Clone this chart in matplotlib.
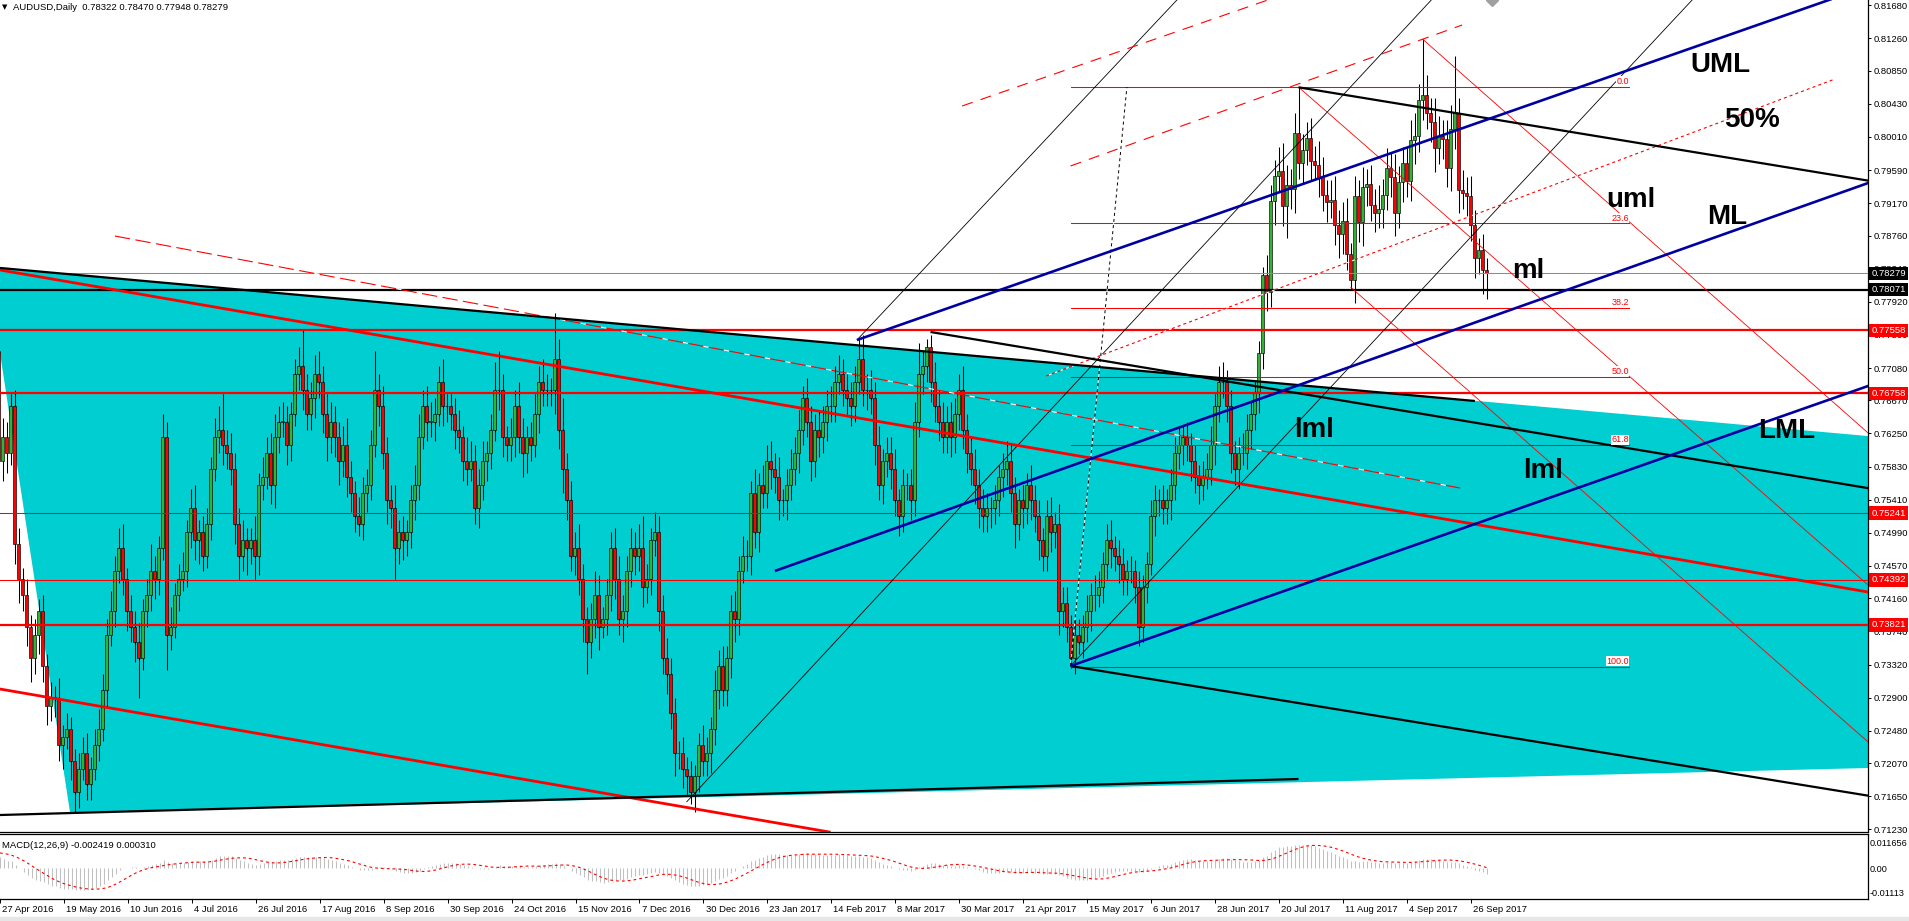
import numpy as np
import pandas as pd
import matplotlib
matplotlib.use("Agg")
import matplotlib.pyplot as plt
from matplotlib.patches import Polygon
import matplotlib.transforms as mtransforms

plt.rcParams['font.family'] = ['Liberation Sans', 'DejaVu Sans']
plt.rcParams['lines.scale_dashes'] = False

W, H = 1909, 921

# ---------------- price data (AUDUSD daily, in pips) ----------------
# closes before the first visible bar, only used to warm up the MACD
warmup_close = [7160, 7240, 7290, 7370, 7430, 7410, 7420, 7400, 7490, 7480, 7450, 7580, 7640, 7620,
                7590, 7620, 7550, 7510, 7520, 7560, 7650, 7660, 7660, 7640, 7580, 7560, 7580, 7530,
                7580, 7610, 7680, 7640, 7650, 7710, 7720, 7800, 7760, 7720, 7720, 7690, 7730]

close = [
    7590, 7620, 7600,                       # 27-29 Apr 2016
    7660, 7485, 7440, 7420, 7380,
    7340, 7370, 7400, 7330, 7280,
    7290, 7290, 7230, 7240, 7250,
    7210, 7170, 7200, 7220, 7180,
    7200, 7230, 7250, 7300, 7370,
    7400, 7450, 7480, 7440, 7400,
    7380, 7360, 7340, 7400, 7420,
    7450, 7440, 7480, 7620, 7370,
    7380, 7420, 7440, 7450, 7500,
    7530, 7490, 7500, 7470, 7510,           # Jul 2016
    7580, 7620, 7630, 7610, 7600,
    7580, 7510, 7470, 7490, 7480,
    7490, 7470, 7560, 7570, 7600,
    7560, 7620, 7640, 7640, 7610,           # Aug 2016
    7650, 7700, 7710, 7680, 7650,
    7670, 7700, 7690, 7650, 7620,
    7640, 7620, 7590, 7610, 7570,
    7550, 7520, 7510, 7550, 7560,
    7610, 7680, 7660, 7600, 7540,           # Sep 2016
    7530, 7480, 7500, 7490, 7500,
    7540, 7560, 7620, 7660, 7640,
    7640, 7650, 7690, 7660, 7660,
    7650, 7630, 7620, 7590, 7580,           # Oct 2016
    7590, 7530, 7560, 7590, 7600,
    7630, 7680, 7680, 7620, 7610,
    7620, 7660, 7620, 7600, 7620,
    7610, 7650, 7690, 7680, 7680,
    7680, 7720, 7630, 7580, 7540,           # Nov 2016
    7470, 7480, 7440, 7390, 7360,
    7390, 7420, 7380, 7390, 7420,
    7480, 7440, 7390, 7400, 7450,
    7480, 7470, 7480, 7430, 7440,           # Dec 2016
    7490, 7500, 7400, 7340, 7320,
    7270, 7220, 7220, 7200, 7190,
    7170, 7190, 7230, 7210,
    7220, 7250, 7300, 7330, 7300,           # Jan 2017
    7340, 7400, 7390, 7450, 7470,
    7470, 7550, 7500, 7560, 7550,
    7590, 7580, 7570, 7540, 7540,
    7560, 7580, 7600, 7630, 7670,
    7640, 7590, 7630, 7620, 7640,           # Feb 2017
    7660, 7660, 7690, 7700, 7680,
    7670, 7660, 7690, 7720, 7680,
    7680, 7670, 7610, 7560, 7590,
    7600, 7580, 7540, 7520, 7560,           # Mar 2017
    7560, 7540, 7640, 7700, 7710,
    7735, 7690, 7660, 7640, 7620,
    7640, 7620, 7650, 7680, 7630,
    7600, 7580, 7560, 7530, 7520,           # Apr 2017
    7530, 7530, 7540, 7570, 7580,
    7590, 7550, 7510, 7540, 7530,
    7560, 7540, 7520, 7490, 7470,
    7520, 7500, 7510, 7400, 7410,           # May 2017
    7380, 7340, 7370, 7360, 7380,
    7400, 7420, 7420, 7430, 7460,
    7490, 7480, 7470, 7460, 7440,
    7450, 7450, 7430, 7380, 7430,
    7460, 7520, 7540, 7540, 7530,           # Jun 2017
    7540, 7560, 7600, 7610, 7620,
    7610, 7590, 7570, 7560, 7570,
    7580, 7610, 7660, 7690, 7690,
    7660, 7600, 7580, 7600, 7600,           # Jul 2017
    7630, 7650, 7676, 7727, 7826,
    7805, 7920, 7952, 7958, 7913,
    7940, 7935, 8006, 7968, 7985,
    8000, 7970, 7966, 7950, 7927,
    7918, 7921, 7889, 7878, 7894,           # Aug 2017
    7852, 7820, 7926, 7893, 7938,
    7941, 7915, 7905, 7910, 7928,
    7962, 7950, 7905, 7944, 7968,
    7945, 7997, 8002, 8048, 8054,           # Sep 2017
    8031, 8020, 7987, 8002, 7998,
    7962, 8011, 8031, 7934, 7930,
    7926, 7889, 7847, 7858, 7832,
    7828,                                   # 2 Oct 2017
]

wick_up = [
    10, 25, 20,
    15, 20, 20, 15, 20, 15, 20, 15, 20, 15, 20, 15, 25, 15, 20, 15, 15, 20, 20, 25,
    15, 20, 25, 20, 20, 25, 20, 25, 30, 15, 20, 20, 25, 15, 20, 35, 20, 15, 30, 20,
    25, 15, 20, 25, 15, 25, 30, 15, 20, 20, 15, 25, 30, 45, 20, 25, 20, 20, 25, 15,
    15, 30, 15, 25, 20, 25, 30, 20, 25, 20, 15, 20, 25, 48, 20, 20, 25, 30, 20, 25,
    25, 20, 20, 25, 35, 20, 15, 25, 20, 20, 20, 50, 20, 25, 20, 20, 30, 15, 20, 15,
    20, 25, 30, 20, 25, 25, 20, 20, 30, 15, 15, 20, 25, 15, 30, 25, 20, 20, 25, 15,
    20, 35, 50, 20, 15, 25, 20, 30, 25, 15, 20, 25, 20, 30, 20, 15, 58, 25, 40, 20,
    25, 20, 30, 20, 15, 20, 30, 25, 15, 20, 20, 25, 30, 20, 20, 25, 20, 30, 40, 20,
    15, 25, 20, 20, 25, 20, 20, 15, 20, 15, 20, 15, 15, 25,
    20, 15, 25, 20, 25, 15, 20, 25, 20, 25, 20, 15, 30, 15, 25, 20, 25, 20, 25, 15,
    20, 25, 20, 25, 15, 25, 20, 20, 25, 20, 20, 25, 20, 25, 20, 20, 20, 20, 25, 30,
    20, 25, 20, 25, 15, 20, 20, 25, 15, 20, 15, 20, 25, 40, 20, 10, 15, 25, 20, 25,
    20, 25, 20, 20, 30, 20, 20, 25, 20, 25, 20, 15, 20, 15, 20, 25, 20, 20, 15, 20,
    15, 25, 20, 20, 15, 20, 25, 15, 25, 20, 20, 15, 20, 20, 15, 20, 15, 25, 20, 15,
    20, 25, 15, 20, 20, 15, 20, 15, 20, 15, 15, 20, 20, 15, 20, 15, 20, 20, 25, 15,
    20, 15, 20, 15, 20, 20, 25, 15, 20, 25, 15, 20, 15, 20, 25, 20, 15, 15, 15, 10,
    25, 20, 20, 30, 35, 25, 20, 25, 59, 20, 20, 25, 20, 30, 25, 20, 25, 30, 20, 25,
    30, 15, 25, 20, 25, 20, 25, 20, 30, 20, 25, 20, 30, 20, 20, 20, 25, 30, 20, 71,
    25, 20, 30, 25, 20, 25, 30, 73, 20, 25, 20, 25, 20, 15, 20,
    15,
]

wick_dn = [
    20, 25, 25,
    15, 25, 30, 20, 25, 30, 20, 25, 20, 25, 20, 25, 20, 30, 15, 25, 25, 20, 15, 20,
    20, 15, 20, 15, 20, 15, 20, 15, 20, 25, 20, 25, 50, 15, 20, 20, 25, 20, 15, 45,
    20, 15, 20, 15, 20, 20, 25, 30, 20, 15, 20, 15, 20, 25, 20, 20, 25, 30, 20, 35,
    20, 30, 25, 20, 15, 25, 30, 20, 20, 25, 20, 15, 20, 25, 20, 20, 25, 20, 25, 30,
    20, 25, 30, 20, 25, 25, 20, 15, 20, 25, 20, 15, 25, 20, 30, 25, 40, 20, 25, 20,
    20, 25, 20, 15, 25, 20, 25, 15, 25, 20, 20, 25, 20, 25, 20, 15, 20, 25, 20, 25,
    20, 15, 25, 25, 20, 20, 25, 20, 30, 25, 20, 15, 25, 20, 20, 20, 30, 25, 30, 25,
    20, 25, 20, 30, 40, 20, 25, 30, 15, 20, 20, 25, 20, 30, 20, 20, 25, 20, 25, 20,
    20, 20, 25, 20, 25, 20, 30, 20, 25, 25, 15, 25, 20, 20,
    20, 25, 20, 25, 20, 20, 25, 30, 20, 15, 20, 25, 20, 25, 20, 20, 25, 20, 25, 20,
    25, 20, 20, 25, 20, 20, 25, 20, 25, 20, 25, 20, 20, 15, 20, 20, 25, 20, 15, 20,
    25, 20, 25, 20, 25, 20, 25, 20, 25, 20, 20, 25, 20, 20, 25, 20, 25, 20, 25, 20,
    20, 25, 20, 20, 25, 25, 20, 25, 25, 20, 20, 25, 20, 20, 25, 20, 25, 30, 20, 25,
    20, 25, 20, 25, 20, 20, 25, 20, 30, 20, 20, 12, 20, 15, 20, 20, 25, 20, 15, 20,
    20, 25, 20, 25, 20, 20, 15, 20, 25, 20, 20, 15, 25, 20, 20, 20, 25, 20, 20, 25,
    20, 25, 20, 25, 20, 15, 20, 25, 20, 20, 20, 25, 20, 25, 15, 20, 25, 20, 25, 20,
    25, 20, 30, 20, 25, 40, 25, 30, 20, 25, 20, 25, 20, 25, 20, 25, 20, 25, 30, 25,
    20, 12, 30, 25, 30, 25, 20, 25, 20, 25, 20, 25, 30, 20, 25, 20, 25, 30, 20, 25,
    20, 25, 30, 20, 25, 25, 30, 25, 30, 20, 25, 20, 25, 20, 30,
    33,
]

# ---------------- axis labels ----------------
price_ticks = [0.81680, 0.81260, 0.80850, 0.80430, 0.80010, 0.79590, 0.79170, 0.78760, 0.78340,
               0.77920, 0.77500, 0.77080, 0.76670, 0.76250, 0.75830, 0.75410, 0.74990, 0.74570,
               0.74160, 0.73740, 0.73320, 0.72900, 0.72480, 0.72070, 0.71650, 0.71230]
date_labels = ["27 Apr 2016", "19 May 2016", "10 Jun 2016", "4 Jul 2016", "26 Jul 2016",
               "17 Aug 2016", "8 Sep 2016", "30 Sep 2016", "24 Oct 2016", "15 Nov 2016",
               "7 Dec 2016", "30 Dec 2016", "23 Jan 2017", "14 Feb 2017", "8 Mar 2017",
               "30 Mar 2017", "21 Apr 2017", "15 May 2017", "6 Jun 2017", "28 Jun 2017",
               "20 Jul 2017", "11 Aug 2017", "4 Sep 2017", "26 Sep 2017"]
macd_ticks = [0.011656, 0.0, -0.01113]
macd_tick_labels = ["0.011656", "0.00", "-0.01113"]

# ---------------- drawn objects: (bar_1, price_1, bar_2, price_2) ----------------
levels_thick_red = [0.77558, 0.76758, 0.73821]
levels_thin_red = [0.75241, 0.74392]
level_black = 0.78071
bid_price = 0.78279

black_segments = [(-4, 0.78369, 369.1, 0.76662), (-2, 0.71408, 325, 0.71868)]
black_rays = [(233, 0.77537, 467, 0.75560), (325, 0.80640, 467, 0.79460), (268, 0.73301, 467, 0.71660)]
red_thick_lines = [(0.375, 0.78323, 467.4, 0.74239), (0.375, 0.73009, 205.6, 0.71214)]
blue_rays = [(214.6, 0.77435, 350.4, 0.79845), (194.1, 0.74506, 467.4, 0.79426), (268, 0.73301, 467.4, 0.76852)]
thin_black_rays = [(172, 0.71576, 225.4, 0.74493), (214.6, 0.77435, 294.6, 0.81747), (268, 0.73301, 423.4, 0.81747)]
thin_red_rays = [(325, 0.80643, 467.4, 0.74328), (356, 0.81252, 467.4, 0.76256), (338, 0.78107, 467.4, 0.72337)]
dash_long = (29.1, 0.78754, 365.4, 0.75558)
dash_upper = [(240.9, 0.80403, 330, 0.81970), (268, 0.79642, 365.9, 0.81430)]
dash_half = (261.9, 0.76979, 459.1, 0.80745)
dotted_black = (268, 0.73301, 282.1, 0.80643)
triangle = [(-2.9, 0.78361), (17.9, 0.71437), (1189.7, 0.72924)]

fib_high, fib_low = 0.80650, 0.73290
fib_levels = [0.0, 23.6, 38.2, 50.0, 61.8, 100.0]
fib_start, fib_end = 268, 407.6

fork_labels = [("UML", 430.4, 0.80834), ("50%", 438.4, 0.80137), ("uml", 408.1, 0.79122),
               ("ML", 432.1, 0.78906), ("ml", 382.4, 0.78222), ("lml", 328.9, 0.76205),
               ("lml", 386.1, 0.75685), ("LML", 447.1, 0.76192)]

# ---------------- prepare series ----------------
dates = pd.bdate_range("2016-03-01", "2017-10-02", freq="C", holidays=["2016-12-26"])
n_warm = len(warmup_close)
assert len(dates) == n_warm + len(close) == n_warm + len(wick_up) == n_warm + len(wick_dn)

all_close = np.array(warmup_close + close, dtype=float) / 1e4
c = np.array(close, dtype=float) / 1e4
o = all_close[n_warm - 1:-1]
hi = np.maximum(o, c) + np.array(wick_up) / 1e4
lo = np.minimum(o, c) - np.array(wick_dn) / 1e4
bars = np.arange(len(c))

ema12 = pd.Series(all_close).ewm(span=12, adjust=False).mean()
ema26 = pd.Series(all_close).ewm(span=26, adjust=False).mean()
macd_main = (ema12 - ema26).to_numpy()
macd_signal = pd.Series(macd_main).rolling(9).mean().to_numpy()
macd_main, macd_signal = macd_main[n_warm:], macd_signal[n_warm:]

tick_pos = [dates.get_loc(pd.to_datetime(s, format="%d %b %Y")) - n_warm for s in date_labels]

XMIN, XMAX = 0.375, 467.375
YMIN, YMAX = 0.711958, 0.817472

# ---------------- figure ----------------
fig = plt.figure(figsize=(W / 100, H / 100), dpi=100, facecolor="white")
ax = fig.add_axes([0, (H - 832) / H, 1868 / W, 832 / H])
axm = fig.add_axes([0, (H - 899) / H, 1868 / W, 65 / H])

ax.set_xlim(XMIN, XMAX)
ax.set_ylim(YMIN, YMAX)
ax.set_facecolor("white")

# cyan triangle object
ax.add_patch(Polygon(triangle, closed=True, facecolor="#00CED1", edgecolor="none", zorder=0.5))

# candles
up = c >= o
body_col = np.where(up, "#32B432", "#FF0000")
ax.vlines(bars, lo, hi, color="black", lw=0.75, zorder=1.9)
ax.bar(bars, np.maximum(np.abs(c - o), 0.00002), bottom=np.minimum(o, c), width=0.62,
       color=body_col, edgecolor="black", linewidth=0.45, zorder=2)


def seg(a, ray=False, **kw):
    b1, p1, b2, p2 = a
    if ray:
        xe = XMAX + 5
        p2 = p1 + (p2 - p1) * (xe - b1) / (b2 - b1)
        b2 = xe
    ax.plot([b1, b2], [p1, p2], solid_capstyle="butt", dash_capstyle="butt", **kw)


# horizontal levels
for p in levels_thick_red:
    ax.axhline(p, color="#FF0000", lw=1.6, zorder=3)
for p in levels_thin_red:
    ax.axhline(p, color="#FF0000", lw=0.75, zorder=3)
ax.axhline(level_black, color="black", lw=1.6, zorder=3)
ax.axhline(bid_price, color="#8C8C8C", lw=0.75, zorder=3)

# fibonacci
for lv in fib_levels:
    p = fib_high - lv / 100 * (fib_high - fib_low)
    ax.plot([fib_start, fib_end], [p, p], color="#FF0000", lw=0.75, zorder=3)
    ax.text(fib_end, p + 0.00012, f"{lv:.1f}", color="#FF0000", fontsize=6.5, ha="right", va="bottom",
            zorder=4, bbox=dict(boxstyle="square,pad=0.05", fc="white", ec="none"))

# trend lines
for a in red_thick_lines:
    ax.axline(a[:2], a[2:], color="#FF0000", lw=2.0, zorder=3.2)
for a in black_segments:
    seg(a, color="black", lw=1.6, zorder=3.3)
for a in black_rays:
    seg(a, True, color="black", lw=1.6, zorder=3.3)
for a in thin_black_rays:
    seg(a, True, color="black", lw=0.6, zorder=3.1)
for a in thin_red_rays:
    seg(a, True, color="#FF0000", lw=0.6, zorder=3.1)
for a in blue_rays:
    seg(a, True, color="#0000A0", lw=1.9, zorder=3.4)
seg(dash_long, color="#FF0000", lw=0.8, linestyle=(0, (11, 4)), gapcolor="white", zorder=3.1)
for a in dash_upper:
    seg(a, color="#FF0000", lw=0.8, linestyle=(0, (8, 6)), zorder=3.1)
seg(dash_half, color="#FF0000", lw=0.8, linestyle=(0, (2.2, 2.2)), gapcolor="white", zorder=3.1)
seg(dotted_black, color="black", lw=0.7, linestyle=(0, (2.2, 2.2)), gapcolor="white", zorder=3.1)

for txt, bx, py in fork_labels:
    ax.text(bx, py, txt, fontsize=20, fontweight="bold", color="black", ha="center", va="baseline", zorder=6)

# chart shift marker
ax.plot(373.4, YMAX, marker="D", ms=6, color="#A0A0A0", mec="#A0A0A0", zorder=6)

# axes styling (main)
for s in ("left", "top"):
    ax.spines[s].set_visible(False)
ax.spines["right"].set_linewidth(0.9)
ax.spines["bottom"].set_linewidth(0.9)
ax.set_xticks([])
ax.yaxis.tick_right()
ax.set_yticks(price_ticks)
ax.set_yticklabels([f"{v:.5f}" for v in price_ticks])
ax.tick_params(axis="y", length=2.5, width=0.7, pad=1.8, labelsize=6.8, colors="black")

# highlighted price labels on the axis
ytr = ax.get_yaxis_transform()
tags = [(bid_price, "black"), (level_black, "black")] + [(p, "#FF0000") for p in levels_thick_red + levels_thin_red]
for p, col in tags:
    ax.text(1 + 3.5 / 1868, p, f"{p:.5f}", transform=ytr, color="white", fontsize=6.8, ha="left", va="center",
            clip_on=False, zorder=10, bbox=dict(boxstyle="square,pad=0.22", fc=col, ec="none"))

# title
fig.text(2 / W, 1 - 7.5 / H, "\u25bc", fontsize=5, va="center", ha="left", family=["DejaVu Sans"])
fig.text(13 / W, 1 - 7.5 / H, "AUDUSD,Daily  0.78322 0.78470 0.77948 0.78279", fontsize=6.8,
         va="center", ha="left", color="black")

# ---------------- MACD pane ----------------
axm.set_xlim(XMIN, XMAX)
axm.set_ylim(-(899 - 868) / 2230, (868 - 834) / 2230)
axm.vlines(bars, 0, macd_main, color="#C0C0C0", lw=0.75)
axm.plot(bars, macd_signal, color="#FF0000", lw=0.8, linestyle=(0, (2, 2.2)))
axm.spines["left"].set_visible(False)
for s in ("top", "bottom", "right"):
    axm.spines[s].set_linewidth(0.9)
axm.yaxis.tick_right()
axm.set_yticks(macd_ticks)
axm.set_yticklabels(macd_tick_labels)
axm.tick_params(axis="y", length=0, pad=1.5, labelsize=6.6)
axm.set_xticks(tick_pos)
axm.set_xticklabels(date_labels)
axm.tick_params(axis="x", length=3, width=0.7, pad=1.0, labelsize=6.8, direction="out")
off = mtransforms.ScaledTranslation(1.5 / 72, 0, fig.dpi_scale_trans)
for lab in axm.get_xticklabels():
    lab.set_horizontalalignment("left")
    lab.set_transform(lab.get_transform() + off)
axm.text(2 / 1868, 1 - 11 / 65, "MACD(12,26,9) -0.002419 0.000310", transform=axm.transAxes,
         fontsize=6.8, va="center", ha="left")

# light strip at the very bottom
fig.add_artist(plt.Rectangle((0, 0), 1, 4 / H, transform=fig.transFigure, color="#E6E6E6", zorder=0))

fig.savefig("out.png", dpi=100, facecolor="white")
